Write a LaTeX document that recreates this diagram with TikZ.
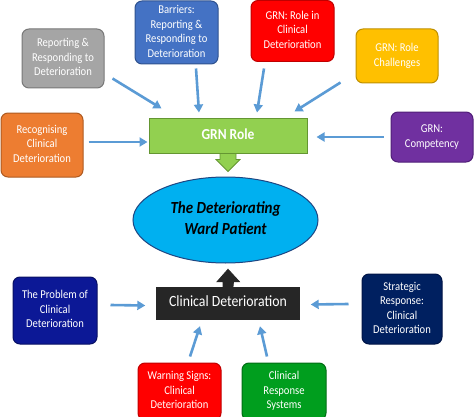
\documentclass[tikz,border=0pt]{standalone}
\usepackage{graphicx}
\usepackage{fontspec}
\setmainfont{Carlito}
\usetikzlibrary{arrows.meta,shapes.geometric}
\definecolor{cgray}{RGB}{165,165,165}\definecolor{cgrayb}{RGB}{120,120,120}
\definecolor{cblue}{RGB}{68,114,196}\definecolor{cblueb}{RGB}{47,82,143}
\definecolor{corange}{RGB}{237,125,49}\definecolor{corangeb}{RGB}{174,90,33}
\definecolor{cred}{RGB}{255,0,0}\definecolor{credb}{RGB}{192,0,0}
\definecolor{cyellow}{RGB}{255,192,0}\definecolor{cyellowb}{RGB}{190,144,0}
\definecolor{cpurple}{RGB}{112,48,160}\definecolor{cpurpleb}{RGB}{80,30,120}
\definecolor{cgrn}{RGB}{146,208,80}\definecolor{cgrnb}{RGB}{100,150,50}
\definecolor{cell}{RGB}{0,176,240}\definecolor{cellb}{RGB}{30,70,130}
\definecolor{cblack}{RGB}{38,38,38}
\definecolor{cnavy}{RGB}{12,24,150}\definecolor{cnavyb}{RGB}{8,16,100}
\definecolor{cdnavy}{RGB}{0,32,96}\definecolor{cdnavyb}{RGB}{0,20,70}
\definecolor{cgreen}{RGB}{0,158,30}\definecolor{cgreenb}{RGB}{0,110,20}
\definecolor{carrow}{RGB}{91,155,213}
\newcommand{\vtxt}[1]{\scalebox{1}[1.13]{\begin{tabular}{@{}c@{}}#1\end{tabular}}}
\begin{document}
\begin{tikzpicture}[x=1pt,y=1pt,
  box/.style={rounded corners=7pt, line width=1pt, text=white, align=center,
    font=\fontsize{10.6}{12.9}\selectfont, inner sep=0pt},
  arr/.style={draw=carrow, line width=2.6pt, -{Triangle[length=8pt,width=9pt]}},
  bigarrow/.style={line width=0.8pt}]
\useasboundingbox (0,0) rectangle (474,416);
% top boxes
\node[box, fill=cgray, draw=cgrayb, minimum width=82pt, minimum height=59pt] (gray) at (63,357.5) {\vtxt{Reporting \&\\Responding to\\Deterioration}};
\node[box, fill=cblue, draw=cblueb, minimum width=83pt, minimum height=63pt] (barr) at (176.5,383.5) {\vtxt{Barriers:\\Reporting \&\\Responding to\\Deterioration}};
\node[box, fill=corange, draw=corangeb, minimum width=82pt, minimum height=64pt] (orange) at (42,271) {\vtxt{Recognising\\Clinical\\Deterioration}};
\node[box, fill=cred, draw=credb, minimum width=83pt, minimum height=61pt] (redtop) at (292.5,385) {\vtxt{GRN: Role in\\Clinical\\Deterioration}};
\node[box, fill=cyellow, draw=cyellowb, minimum width=82pt, minimum height=54pt] (yellow) at (397,360) {\vtxt{GRN: Role\\Challenges}};
\node[box, fill=cpurple, draw=cpurpleb, minimum width=82pt, minimum height=50pt] (purple) at (432,279) {\vtxt{GRN:\\Competency}};
% GRN role
\node[fill=cgrn, draw=cgrnb, line width=1pt, minimum width=158pt, minimum height=35pt, text=white, font=\fontsize{13.5}{16}\selectfont\bfseries, inner sep=0pt] (grn) at (228,280.5) {\vtxt{GRN Role}};
% ellipse
\node[ellipse, fill=cell, draw=cellb, line width=1pt, minimum width=185pt, minimum height=86pt, align=center, font=\fontsize{15}{18.8}\selectfont\bfseries\itshape, inner sep=0pt] (patient) at (225.5,196) {\vtxt{The Deteriorating\\Ward Patient}};
% clinical deterioration
\node[fill=cblack, draw=cblack, minimum width=143pt, minimum height=32pt, text=white, font=\fontsize{13.8}{16}\selectfont, inner sep=0pt] (clin) at (228,113) {\vtxt{Clinical Deterioration}};
% block arrows
\filldraw[bigarrow, fill=cgrn, draw=cgrnb] ([xshift=-8pt]grn.south) -- ++(0,-6) -- ++(-4,0) -- ([yshift=-18pt]grn.south) -- ++(12,12) -- ++(-4,0) -- ([xshift=8pt]grn.south) -- cycle;
\filldraw[bigarrow, fill=cblack, draw=cblack] ([xshift=-5pt]clin.north) -- ++(0,5) -- ++(-6,0) -- ([yshift=17.5pt]clin.north) -- ++(11.5,-12.5) -- ++(-6,0) -- ([xshift=5pt]clin.north) -- cycle;
% bottom boxes
\node[box, fill=cnavy, draw=cnavyb, minimum width=84pt, minimum height=67pt] (problem) at (55,105.5) {\vtxt{The Problem of\\Clinical\\Deterioration}};
\node[box, fill=cdnavy, draw=cdnavyb, minimum width=80pt, minimum height=70pt] (strat) at (402,107) {\vtxt{Strategic\\Response:\\Clinical\\Deterioration}};
\node[box, fill=cred, draw=credb, minimum width=83pt, minimum height=57pt] (warn) at (179.5,24.5) {\vtxt{Warning Signs:\\Clinical\\Deterioration}};
\node[box, fill=cgreen, draw=cgreenb, minimum width=84pt, minimum height=57pt] (resp) at (284,24.5) {\vtxt{Clinical\\Response\\Systems}};
% connectors
\draw[arr] ([shift={(8,10)}]gray.south east) -- ([shift={(13,9)}]grn.north west);
\draw[arr] ([shift={(19.5,-4)}]barr.south) -- ([shift={(-29,5)}]grn.north);
\draw[arr] ([shift={(5,3)}]orange.east) -- ([shift={(-1,-6.5)}]grn.west);
\draw[arr] ([shift={(-28.5,-6.5)}]redtop.south) -- ([shift={(29,5)}]grn.north);
\draw[arr] ([shift={(-15,1)}]yellow.south west) -- ([shift={(-13,6)}]grn.north east);
\draw[arr] ([shift={(-7,0)}]purple.west) -- ([shift={(9,-1.5)}]grn.east);
\draw[arr] ([shift={(13,5.5)}]problem.east) -- ([shift={(-11,-2.5)}]clin.west);
\draw[arr] ([shift={(10.5,6)}]warn.north) -- ([shift={(-28,-7)}]clin.south);
\draw[arr] ([shift={(-17,6)}]resp.north) -- ([shift={(32,-7)}]clin.south);
\draw[arr] ([shift={(-13,5)}]strat.west) -- ([shift={(11,-1.5)}]clin.east);
\end{tikzpicture}
\end{document}
